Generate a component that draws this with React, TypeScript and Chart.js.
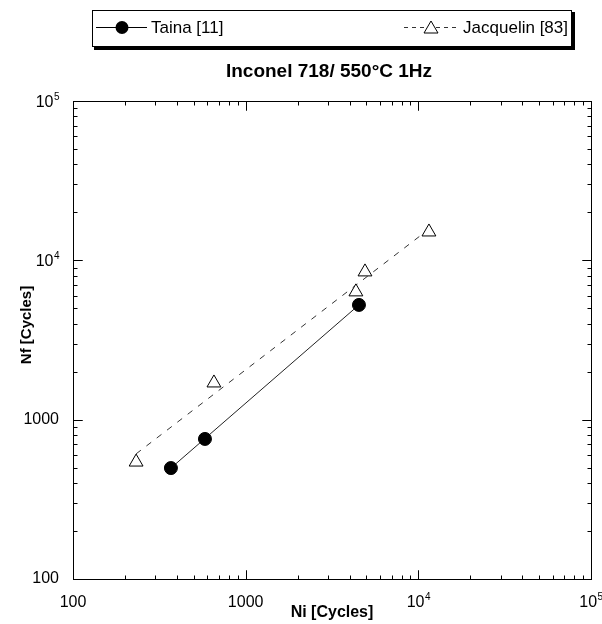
import React, { useEffect, useRef } from 'react';
import { Chart, registerables } from 'chart.js';

Chart.register(...registerables);

// ---- data ----
const tainaNi = [369, 581, 4530];
const tainaNf = [497, 757, 5250];
const jacquelinNi = [232, 655, 4350, 4910, 11520];
const jacquelinNf = [542, 1700, 6340, 8460, 15070];
// power-law fit lines (end points)
const tainaFitNi = [369, 4530];
const tainaFitNf = [497, 5250];
const jacquelinFitNi = [232, 11520];
const jacquelinFitNf = [610, 15700];

const xTickValues = [100, 1000, 10000, 100000];
const xTickLabels = ['100', '1000', '10^4', '10^5'];
const yTickValues = [100, 1000, 10000, 100000];
const yTickLabels = ['100', '1000', '10^4', '10^5'];

const legendLabels = ['Taina [11]', 'Jacquelin [83]'];
const chartTitle = 'Inconel 718/ 550°C 1Hz';
const xTitle = 'Ni [Cycles]';
const yTitle = 'Nf [Cycles]';

const FONT = '"Liberation Sans", Arial, Helvetica, sans-serif';

const toPoints = (xs: number[], ys: number[]) => xs.map((x, i) => ({ x, y: ys[i] }));

const plainLabel = (values: number[], labels: string[]) => (v: any) => {
  const i = values.indexOf(Number(v));
  if (i < 0) return '';
  return labels[i].includes('^') ? '' : labels[i];
};

const decorPlugin = {
  id: 'decor',
  afterDraw(chart: any) {
    const { ctx, chartArea: a, scales } = chart;
    const xs = scales.x;
    const ys = scales.y;
    const line = (x1: number, y1: number, x2: number, y2: number) => {
      ctx.beginPath();
      ctx.moveTo(x1, y1);
      ctx.lineTo(x2, y2);
      ctx.stroke();
    };
    ctx.save();
    ctx.strokeStyle = '#000';
    ctx.fillStyle = '#000';
    ctx.lineWidth = 1;
    const L = Math.round(a.left) + 0.5;
    const R = Math.round(a.right) + 0.5;
    const T = Math.round(a.top) + 0.5;
    const B = Math.round(a.bottom) + 0.5;
    ctx.strokeRect(L, T, R - L, B - T);
    // tick marks on all four sides, pointing inward
    for (let e = 2; e < 5; e++) {
      for (let m = 1; m <= 10; m++) {
        const v = m * Math.pow(10, e);
        const len = m === 1 || m === 10 ? 9 : 4;
        const px = Math.round(xs.getPixelForValue(v)) + 0.5;
        line(px, B, px, B - len);
        line(px, T, px, T + len);
        const py = Math.round(ys.getPixelForValue(v)) + 0.5;
        line(L, py, L + len, py);
        line(R, py, R - len, py);
      }
    }

    // power-of-ten tick labels with superscripts
    const drawPow = (label: string, right: number, baseline: number) => {
      const [base, exp] = label.split('^');
      ctx.textBaseline = 'alphabetic';
      ctx.textAlign = 'left';
      ctx.font = `10px ${FONT}`;
      const we = ctx.measureText(exp).width;
      ctx.font = `16px ${FONT}`;
      const wb = ctx.measureText(base).width;
      ctx.fillText(base, right - we - wb, baseline);
      ctx.font = `10px ${FONT}`;
      ctx.fillText(exp, right - we + 0.5, baseline - 7);
      return wb + we;
    };
    xTickValues.forEach((v, i) => {
      const lab = xTickLabels[i];
      if (!lab.includes('^')) return;
      const px = xs.getPixelForValue(v);
      ctx.font = `16px ${FONT}`;
      const [base, exp] = lab.split('^');
      const wb = ctx.measureText(base).width;
      ctx.font = `10px ${FONT}`;
      const we = ctx.measureText(exp).width;
      drawPow(lab, px + (wb + we) / 2, 607);
    });
    yTickValues.forEach((v, i) => {
      const lab = yTickLabels[i];
      if (!lab.includes('^')) return;
      const py = ys.getPixelForValue(v);
      drawPow(lab, 59, py + 6);
    });

    // legend box with shadow
    ctx.strokeRect(92.5, 10.5, 479, 36);
    ctx.fillRect(572, 12, 3, 38);
    ctx.fillRect(94, 47, 481, 3);

    // Taina legend item
    line(96, 27.5, 147, 27.5);
    ctx.beginPath();
    ctx.arc(122, 27.5, 6.5, 0, Math.PI * 2);
    ctx.fill();
    ctx.font = `17px ${FONT}`;
    ctx.textBaseline = 'middle';
    ctx.textAlign = 'left';
    ctx.fillText(legendLabels[0], 151, 28);

    // Jacquelin legend item
    ctx.setLineDash([4, 4]);
    ctx.strokeStyle = '#333';
    line(404, 27.5, 458, 27.5);
    ctx.setLineDash([]);
    ctx.strokeStyle = '#000';
    ctx.beginPath();
    ctx.moveTo(431, 21);
    ctx.lineTo(438, 33);
    ctx.lineTo(424, 33);
    ctx.closePath();
    ctx.fillStyle = '#fff';
    ctx.fill();
    ctx.stroke();
    ctx.fillStyle = '#000';
    ctx.textAlign = 'right';
    ctx.fillText(legendLabels[1], 568, 28);

    // chart title
    ctx.font = `bold 19px ${FONT}`;
    ctx.textAlign = 'center';
    ctx.fillText(chartTitle, 329, 72);

    // axis titles
    ctx.font = `bold 16px ${FONT}`;
    ctx.fillText(xTitle, (a.left + a.right) / 2, 613);
    ctx.save();
    ctx.translate(27, 325);
    ctx.rotate(-Math.PI / 2);
    ctx.font = `bold 15px ${FONT}`;
    ctx.fillText(yTitle, 0, 0);
    ctx.restore();

    ctx.restore();
  },
};

export default function App() {
  const canvasRef = useRef<HTMLCanvasElement | null>(null);

  useEffect(() => {
    const canvas = canvasRef.current;
    if (!canvas) return;
    const chart = new Chart(canvas, {
      type: 'scatter',
      data: {
        datasets: [
          {
            label: legendLabels[0],
            data: toPoints(tainaNi, tainaNf),
            pointStyle: 'circle',
            pointRadius: 6.5,
            pointBackgroundColor: '#000',
            pointBorderColor: '#000',
            pointBorderWidth: 1,
            showLine: false,
          },
          {
            label: legendLabels[1],
            data: toPoints(jacquelinNi, jacquelinNf),
            pointStyle: 'triangle',
            pointRadius: 8,
            pointBackgroundColor: '#fff',
            pointBorderColor: '#000',
            pointBorderWidth: 1,
            showLine: false,
          },
          {
            label: 'Taina fit',
            data: toPoints(tainaFitNi, tainaFitNf),
            showLine: true,
            borderColor: '#222',
            borderWidth: 1,
            pointRadius: 0,
          },
          {
            label: 'Jacquelin fit',
            data: toPoints(jacquelinFitNi, jacquelinFitNf),
            showLine: true,
            borderColor: '#333',
            borderWidth: 1,
            borderDash: [6, 7],
            pointRadius: 0,
          },
        ],
      },
      options: {
        responsive: false,
        animation: false,
        devicePixelRatio: 1,
        layout: { padding: { top: 101, right: 11, left: 0, bottom: 0 } },
        plugins: {
          legend: { display: false },
          title: { display: false },
          tooltip: { enabled: false },
        },
        scales: {
          x: {
            type: 'logarithmic',
            min: 100,
            max: 100000,
            grid: { display: false, drawTicks: false },
            border: { display: false },
            afterBuildTicks: (s: any) => {
              s.ticks = xTickValues.map((v) => ({ value: v }));
            },
            afterFit: (s: any) => {
              s.height = 45;
              s.paddingLeft = 0;
              s.paddingRight = 0;
            },
            ticks: {
              autoSkip: false,
              maxRotation: 0,
              padding: 14,
              color: '#000',
              font: { family: FONT, size: 16 },
              callback: plainLabel(xTickValues, xTickLabels),
            },
          },
          y: {
            type: 'logarithmic',
            min: 100,
            max: 100000,
            grid: { display: false, drawTicks: false },
            border: { display: false },
            afterBuildTicks: (s: any) => {
              s.ticks = yTickValues.map((v) => ({ value: v }));
            },
            afterFit: (s: any) => {
              s.width = 73;
              s.paddingTop = 0;
              s.paddingBottom = 0;
            },
            ticks: {
              autoSkip: false,
              padding: 14,
              color: '#000',
              font: { family: FONT, size: 16 },
              callback: plainLabel(yTickValues, yTickLabels),
            },
          },
        },
      },
      plugins: [decorPlugin],
    } as any);
    return () => chart.destroy();
  }, []);

  return (
    <div style={{ position: 'fixed', left: 0, top: 0, width: 602, height: 624, background: '#fff' }}>
      <canvas ref={canvasRef} width={602} height={624} style={{ display: 'block', width: 602, height: 624 }} />
    </div>
  );
}
